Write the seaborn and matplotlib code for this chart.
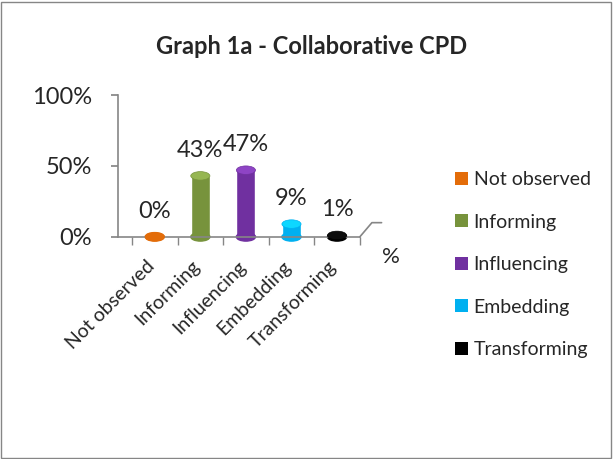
import matplotlib
matplotlib.use("Agg")
import matplotlib.pyplot as plt
import matplotlib.colors as mcolors
import matplotlib.transforms as mtransforms
from matplotlib.patches import Ellipse, Patch, Rectangle
import seaborn as sns

# Chart data
categories = ["Not observed", "Informing", "Influencing", "Embedding", "Transforming"]
values = [0, 43, 47, 9, 1]
bar_colors = ["#E36C09", "#77933C", "#7030A0", "#00B0F0", "#000000"]
y_ticks = [0, 50, 100]
y_tick_labels = ["0%", "50%", "100%"]

sns.set_theme(style="white")
plt.rcParams['font.family'] = ['Lato', 'DejaVu Sans']

fig = plt.figure(figsize=(6.13, 4.59), dpi=100)
ax = fig.add_axes([0.193, 0.484, 0.394, 0.309])

sns.barplot(x=categories, y=values, hue=categories, palette=bar_colors,
            legend=False, width=0.42, ax=ax, saturation=1)

bars = sorted([p for p in ax.patches], key=lambda p: p.get_x())

# cylinder caps on each bar + value labels
for bar, col, v in zip(bars, bar_colors, values):
    cx = bar.get_x() + bar.get_width() / 2
    w = bar.get_width()
    h = bar.get_height()
    light = mcolors.to_rgba(col)
    light = tuple(min(1, c * 1.15 + 0.05) for c in light[:3])
    ax.add_patch(Ellipse((cx, 0), w, 6, color=col, clip_on=False, zorder=2))
    ax.add_patch(Ellipse((cx, h), w, 6, color=light if h > 0 else col,
                         ec=col, lw=0.5, clip_on=False, zorder=3))
    ax.annotate(f"{v}%", (cx, h), xytext=(0, 11), textcoords="offset points",
                ha="center", va="bottom", fontsize=17)

ax.set_ylim(0, 100)
ax.set_yticks(y_ticks)
ax.set_yticklabels(y_tick_labels, fontsize=17)
ax.set_xlim(-0.8, 4.43)
ax.set_xticks(range(len(categories)))
ax.set_xticklabels(categories, rotation=45, ha="right", rotation_mode="anchor",
                   fontsize=14)
ax.set_xlabel("")
ax.set_ylabel("")

for side in ["top", "right"]:
    ax.spines[side].set_visible(False)
for side in ["left", "bottom"]:
    ax.spines[side].set_color("#868686")
    ax.spines[side].set_linewidth(1.2)
ax.tick_params(axis="y", left=True, length=5, color="#868686", pad=14)
ax.tick_params(axis="x", bottom=False, pad=9)
# tick marks between categories
ax.set_xticks([i + 0.5 for i in range(-1, len(categories))], minor=True)
ax.tick_params(axis="x", which="minor", bottom=True, length=6, color="#868686")

# nudge category labels a little left, like the original
shift = mtransforms.ScaledTranslation(-9 / 100, 0, fig.dpi_scale_trans)
for lbl in ax.xaxis.get_majorticklabels():
    lbl.set_transform(lbl.get_transform() + shift)

# depth-axis stub and its "%" label
ax.plot([1.0, 1.05, 1.09], [0, 0.1, 0.1], transform=ax.transAxes,
        color="#868686", lw=1.2, clip_on=False)
ax.text(1.13, -0.14, "%", transform=ax.transAxes, fontsize=16,
        ha="center", va="center")

fig.text(0.508, 0.898, "Graph 1a - Collaborative CPD", fontsize=17,
         fontweight="bold", ha="center", va="center")

handles = [Patch(facecolor=c, edgecolor="none", label=l)
           for c, l in zip(bar_colors, categories)]
fig.legend(handles=handles, loc="upper left", bbox_to_anchor=(0.714, 0.665),
           frameon=False, fontsize=14, labelspacing=1.31,
           handlelength=0.65, handleheight=0.65, handletextpad=0.3)

# outer border
fig.patches.append(Rectangle((0.002, 0.003), 0.995, 0.993, transform=fig.transFigure,
                             fill=False, ec="#868686", lw=1))

fig.savefig("out.png", dpi=100)
